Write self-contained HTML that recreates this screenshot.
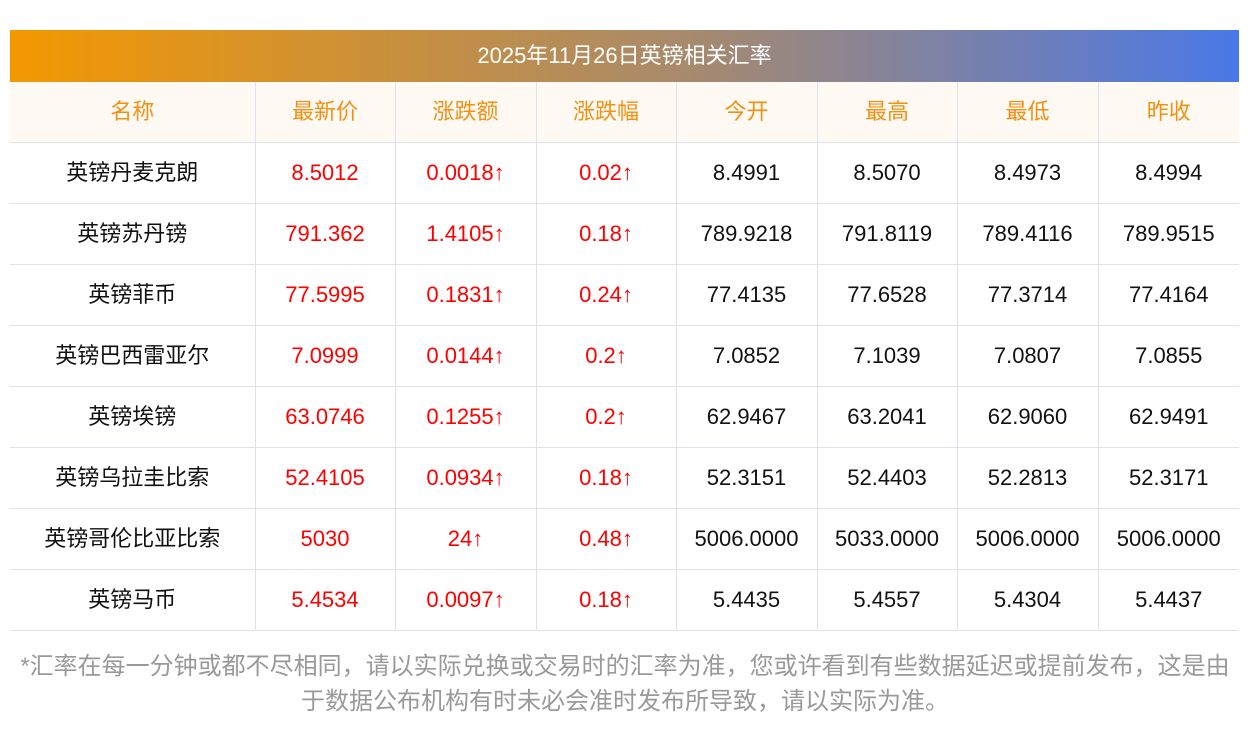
<!DOCTYPE html>
<html><head><meta charset="utf-8"><style>
body{margin:0;width:1250px;height:733px;background:#fff;font-family:"Liberation Sans","Noto Sans CJK SC",sans-serif;position:relative;overflow:hidden}
.title{position:absolute;left:10px;top:30px;width:1229px;height:52px;background:linear-gradient(90deg,#f39800,#a88a6c 55%,#4a78e8);color:#fff;font-size:22px;text-align:center;line-height:52px}
table{position:absolute;left:10px;top:82px;width:1229px;border-collapse:collapse;table-layout:fixed}
td{height:60px;border:1px solid #dfe2ea;text-align:center;font-size:22px;line-height:24px;color:#111;padding:0;vertical-align:middle}
tr td:first-child{border-left:none}
tr td:last-child{border-right:none}
tr.h td{background:#fff9f3;color:#f39012;border-top:none}
.r{color:#f00}
.foot{position:absolute;left:0;top:649px;width:1250px;text-align:center;font-size:24px;color:#999;line-height:35px}
</style></head><body>
<div class="title">2025年11月26日英镑相关汇率</div>
<table>
<colgroup><col style="width:245px"><col style="width:140px"><col style="width:141px"><col style="width:140px"><col style="width:141px"><col style="width:140px"><col style="width:141px"><col style="width:141px"></colgroup>
<tr class="h"><td>名称</td><td>最新价</td><td>涨跌额</td><td>涨跌幅</td><td>今开</td><td>最高</td><td>最低</td><td>昨收</td></tr>
<tr><td>英镑丹麦克朗</td><td class="r">8.5012</td><td class="r">0.0018↑</td><td class="r">0.02↑</td><td>8.4991</td><td>8.5070</td><td>8.4973</td><td>8.4994</td></tr>
<tr><td>英镑苏丹镑</td><td class="r">791.362</td><td class="r">1.4105↑</td><td class="r">0.18↑</td><td>789.9218</td><td>791.8119</td><td>789.4116</td><td>789.9515</td></tr>
<tr><td>英镑菲币</td><td class="r">77.5995</td><td class="r">0.1831↑</td><td class="r">0.24↑</td><td>77.4135</td><td>77.6528</td><td>77.3714</td><td>77.4164</td></tr>
<tr><td>英镑巴西雷亚尔</td><td class="r">7.0999</td><td class="r">0.0144↑</td><td class="r">0.2↑</td><td>7.0852</td><td>7.1039</td><td>7.0807</td><td>7.0855</td></tr>
<tr><td>英镑埃镑</td><td class="r">63.0746</td><td class="r">0.1255↑</td><td class="r">0.2↑</td><td>62.9467</td><td>63.2041</td><td>62.9060</td><td>62.9491</td></tr>
<tr><td>英镑乌拉圭比索</td><td class="r">52.4105</td><td class="r">0.0934↑</td><td class="r">0.18↑</td><td>52.3151</td><td>52.4403</td><td>52.2813</td><td>52.3171</td></tr>
<tr><td>英镑哥伦比亚比索</td><td class="r">5030</td><td class="r">24↑</td><td class="r">0.48↑</td><td>5006.0000</td><td>5033.0000</td><td>5006.0000</td><td>5006.0000</td></tr>
<tr><td>英镑马币</td><td class="r">5.4534</td><td class="r">0.0097↑</td><td class="r">0.18↑</td><td>5.4435</td><td>5.4557</td><td>5.4304</td><td>5.4437</td></tr>
</table>
<div class="foot">*汇率在每一分钟或都不尽相同，请以实际兑换或交易时的汇率为准，您或许看到有些数据延迟或提前发布，这是由<br>于数据公布机构有时未必会准时发布所导致，请以实际为准。</div>
</body></html>
